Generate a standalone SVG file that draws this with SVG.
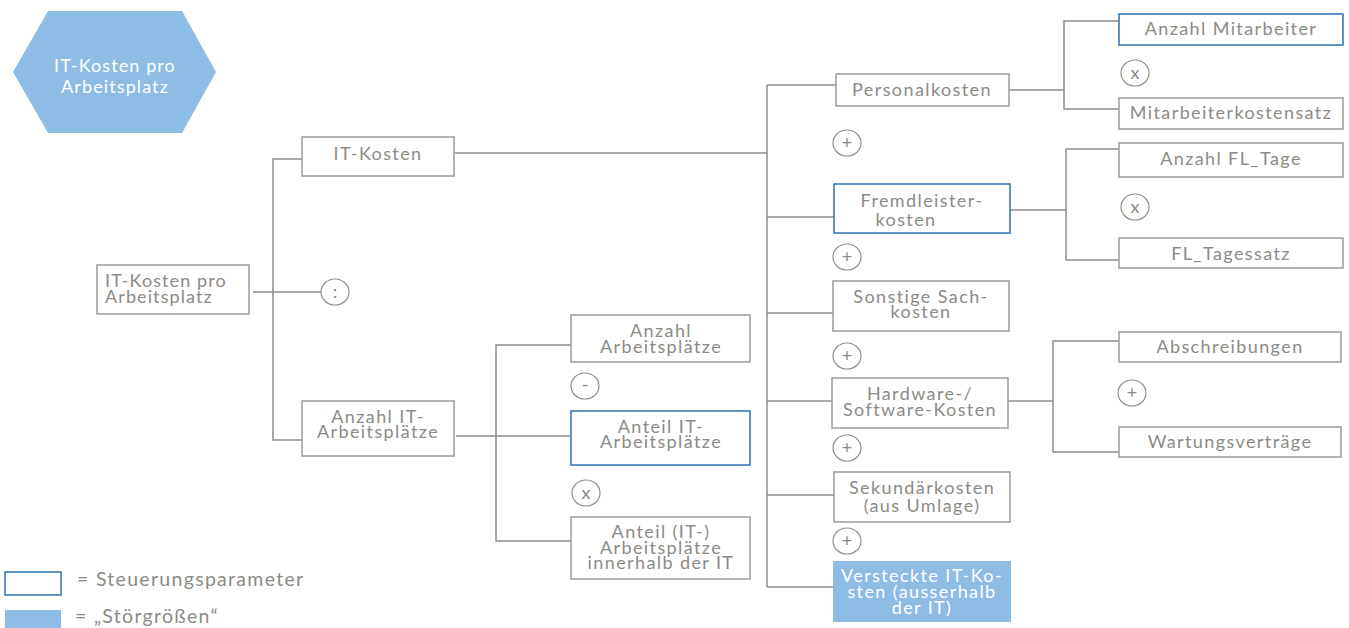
<svg xmlns="http://www.w3.org/2000/svg" width="1349" height="628" viewBox="0 0 1349 628">
  <style>
    .box { fill: #ffffff; stroke: #9d9d96; stroke-width: 1.5; }
    .ctl { fill: #ffffff; stroke: #2f70b1; stroke-width: 1.5; }
    .dist { fill: #8dbde5; stroke: none; }
    .op { fill: #ffffff; stroke: #8f8f88; stroke-width: 1.2; }
    .wire { fill: none; stroke: #8f8f88; stroke-width: 1.5; }
    text { font-family: Lato, "Open Sans", "Liberation Sans", sans-serif; font-size: 18px; fill: #8b8b85; letter-spacing: 1.4px; }
    .c { text-anchor: middle; }
    .w { fill: #ffffff; }
    .tt { letter-spacing: 1.1px; }
    .lg { font-size: 19.5px; letter-spacing: 1.3px; }
    .o { font-size: 18px; letter-spacing: 0; }
  </style>

  <!-- title badge -->
  <g id="badge">
    <polygon points="48,11 182,11 216,72 182,133 48,133 13,72" fill="#8dbde5"/>
    <text class="c w tt" x="115" y="72">IT-Kosten pro<tspan x="115" dy="21">Arbeitsplatz</tspan></text>
  </g>

  <!-- connectors -->
  <g id="connectors">
    <!-- root split -->
    <line class="wire" x1="253" y1="292" x2="321" y2="292"/>
    <polyline class="wire" points="302,159 273,159 273,440 302,440"/>
    <!-- IT-Kosten to cost types -->
    <line class="wire" x1="455" y1="153" x2="767" y2="153"/>
    <line class="wire" x1="767" y1="85" x2="767" y2="587"/>
    <line class="wire" x1="767" y1="85" x2="836" y2="85"/>
    <line class="wire" x1="767" y1="217" x2="834" y2="217"/>
    <line class="wire" x1="767" y1="313" x2="833" y2="313"/>
    <line class="wire" x1="767" y1="401" x2="832" y2="401"/>
    <line class="wire" x1="767" y1="495" x2="834" y2="495"/>
    <line class="wire" x1="767" y1="587" x2="833" y2="587"/>
    <!-- Anzahl IT-Arbeitsplaetze -->
    <line class="wire" x1="456" y1="436" x2="571" y2="436"/>
    <polyline class="wire" points="571,345 496,345 496,541 571,541"/>
    <!-- Personalkosten -->
    <line class="wire" x1="1010" y1="90" x2="1064" y2="90"/>
    <polyline class="wire" points="1119,21 1064,21 1064,109 1119,109"/>
    <!-- Fremdleisterkosten -->
    <line class="wire" x1="1010" y1="210" x2="1066" y2="210"/>
    <polyline class="wire" points="1119,149 1066,149 1066,260 1119,260"/>
    <!-- Hardware/Software -->
    <line class="wire" x1="1008" y1="401" x2="1053" y2="401"/>
    <polyline class="wire" points="1119,341 1053,341 1053,452 1119,452"/>
  </g>

  <!-- operators -->
  <g id="operators">
    <ellipse class="op" cx="335" cy="292" rx="14" ry="13"/>
    <text class="c o" x="335" y="298">:</text>
    <ellipse class="op" cx="585" cy="386" rx="14" ry="13"/>
    <text class="c o" x="585" y="391">-</text>
    <ellipse class="op" cx="586" cy="493" rx="14" ry="13"/>
    <text class="c o" x="586" y="499">x</text>
    <ellipse class="op" cx="847" cy="143" rx="14" ry="13"/>
    <text class="c o" x="847" y="149">+</text>
    <ellipse class="op" cx="847" cy="257" rx="14" ry="13"/>
    <text class="c o" x="847" y="263">+</text>
    <ellipse class="op" cx="847" cy="356" rx="14" ry="13"/>
    <text class="c o" x="847" y="362">+</text>
    <ellipse class="op" cx="847" cy="448" rx="14" ry="13"/>
    <text class="c o" x="847" y="454">+</text>
    <ellipse class="op" cx="847" cy="541" rx="14" ry="13"/>
    <text class="c o" x="847" y="547">+</text>
    <ellipse class="op" cx="1135" cy="73" rx="14" ry="13"/>
    <text class="c o" x="1135" y="79">x</text>
    <ellipse class="op" cx="1135" cy="207" rx="14" ry="13"/>
    <text class="c o" x="1135" y="213">x</text>
    <ellipse class="op" cx="1132" cy="393" rx="14" ry="13"/>
    <text class="c o" x="1132" y="399">+</text>
  </g>

  <g id="root">
    <rect class="box" x="97" y="265" width="152" height="49"/>
    <text class="tt" x="105" y="287">IT-Kosten pro<tspan x="105" dy="16">Arbeitsplatz</tspan></text>
  </g>

  <g id="it-kosten">
    <rect class="box" x="302" y="137" width="152" height="39"/>
    <text class="c" x="378" y="160">IT-Kosten</text>
  </g>

  <g id="anzahl-it-ap">
    <rect class="box" x="302" y="401" width="152" height="55"/>
    <text class="c" x="378" y="423">Anzahl IT-<tspan x="378" dy="15">Arbeitsplätze</tspan></text>
  </g>

  <g id="anzahl-ap">
    <rect class="box" x="571" y="315" width="179" height="47"/>
    <text class="c" x="661" y="337">Anzahl<tspan x="661" dy="16">Arbeitsplätze</tspan></text>
  </g>

  <g id="anteil-it-ap">
    <rect class="ctl" x="571" y="411" width="179" height="54"/>
    <text class="c" x="661" y="433">Anteil IT-<tspan x="661" dy="15">Arbeitsplätze</tspan></text>
  </g>

  <g id="anteil-innerhalb">
    <rect class="box" x="571" y="517" width="179" height="62"/>
    <text class="c" x="661" y="538">Anteil (IT-)<tspan x="661" dy="15.5">Arbeitsplätze</tspan><tspan x="661" dy="15.5">innerhalb der IT</tspan></text>
  </g>

  <g id="personalkosten">
    <rect class="box" x="836" y="74" width="173" height="32"/>
    <text class="c" x="922" y="96">Personalkosten</text>
  </g>

  <g id="fremdleisterkosten">
    <rect class="ctl" x="834" y="184" width="176" height="49"/>
    <text class="c" x="922" y="207">Fremdleister-<tspan x="906" dy="19">kosten</tspan></text>
  </g>

  <g id="sachkosten">
    <rect class="box" x="833" y="281" width="176" height="50"/>
    <text class="c" x="921" y="303">Sonstige Sach-<tspan x="921" dy="15">kosten</tspan></text>
  </g>

  <g id="hw-sw-kosten">
    <rect class="box" x="832" y="378" width="176" height="50"/>
    <text class="c" x="920" y="400">Hardware-/<tspan x="920" dy="16">Software-Kosten</tspan></text>
  </g>

  <g id="sekundaerkosten">
    <rect class="box" x="834" y="472" width="176" height="50"/>
    <text class="c" x="922" y="494">Sekundärkosten<tspan x="922" dy="18">(aus Umlage)</tspan></text>
  </g>

  <g id="versteckte-kosten">
    <rect class="dist" x="833" y="561" width="178" height="61"/>
    <text class="c w" x="922" y="582">Versteckte IT-Ko-<tspan x="922" dy="16">sten (ausserhalb</tspan><tspan x="922" dy="16">der IT)</tspan></text>
  </g>

  <g id="anzahl-mitarbeiter">
    <rect class="ctl" x="1119" y="14" width="224" height="31"/>
    <text class="c" x="1231" y="35">Anzahl Mitarbeiter</text>
  </g>

  <g id="mitarbeiterkostensatz">
    <rect class="box" x="1119" y="98" width="224" height="31"/>
    <text class="c" x="1231" y="119">Mitarbeiterkostensatz</text>
  </g>

  <g id="anzahl-fl-tage">
    <rect class="box" x="1119" y="143" width="224" height="34"/>
    <text class="c" x="1231" y="165">Anzahl FL_Tage</text>
  </g>

  <g id="fl-tagessatz">
    <rect class="box" x="1119" y="238" width="224" height="30"/>
    <text class="c" x="1231" y="260">FL_Tagessatz</text>
  </g>

  <g id="abschreibungen">
    <rect class="box" x="1119" y="332" width="222" height="30"/>
    <text class="c" x="1230" y="353">Abschreibungen</text>
  </g>

  <g id="wartungsvertraege">
    <rect class="box" x="1119" y="427" width="222" height="30"/>
    <text class="c" x="1230" y="448">Wartungsverträge</text>
  </g>

  <!-- legend -->
  <g id="legend">
    <rect class="ctl" x="5" y="572" width="56" height="23"/>
    <text class="lg" x="77" y="586">= Steuerungsparameter</text>
    <rect class="dist" x="5" y="610" width="56" height="18"/>
    <text class="lg" x="75" y="623">= „Störgrößen“</text>
  </g>
</svg>
